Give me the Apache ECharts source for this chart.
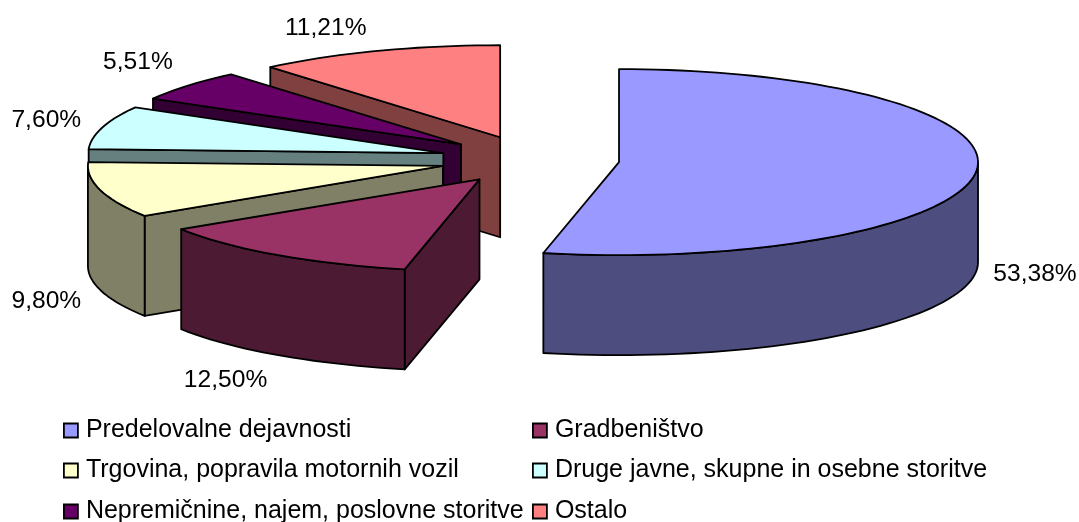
<!DOCTYPE html>
<html><head><meta charset="utf-8">
<style>html,body{margin:0;padding:0;background:#fff}#c{width:1079px;height:522px}</style>
<script src="https://cdn.jsdelivr.net/npm/echarts@6/dist/echarts.min.js"></script>
</head><body><div id="c"></div>
<script>
const categories = ['Predelovalne dejavnosti','Gradbeništvo','Trgovina, popravila motornih vozil','Druge javne, skupne in osebne storitve','Nepremičnine, najem, poslovne storitve','Ostalo'];
const shares = [53.38,12.50,9.80,7.60,5.51,11.21];
const topColors = ['#9999FF','#993366','#FFFFCC','#CCFFFF','#660066','#FF8080'];
const wallColors = ['#4D4D80','#4D1A33','#808066','#668080','#330033','#804040'];

// layout of the 3D pie
const pivot = {x:532, y:159.7}, RX = 355, RY = 92, DEPTH = 100;
const explode = [0.2465,0.26,0.26,0.26,0.26,0.26];
const rxOf = [359,355,355,355,355,355];
const ryOf = [93,92,92,92,92,92];
const labelOffset = [[59,102],[-52,125],[-54,111],[-56,-7],[-50,-23],[-52,-23]];
const legendPos = [[63,418],[532,418],[63,458],[532,458],[63,499],[532,499]];
const FONT_SIZE = 24.6, LEGEND_FONT_SIZE = 25;

const total = shares.reduce((a,b)=>a+b,0);
let run = 0;
const spans = shares.map(v=>{const s=run/total*360; run+=v; return [s,run/total*360];});
const rad = d=>d*Math.PI/180;
const fmt = v=>v.toFixed(2).replace('.',',')+'%';

function slice(i){
  return function(params, api){
    const v = api.value(0), a1 = api.value(1), a2 = api.value(2);
    const mid = (a1+a2)/2, rx = rxOf[i], ry = ryOf[i], e = explode[i];
    const cx = pivot.x + e*RX*Math.sin(rad(mid));
    const cy = pivot.y - e*RY*Math.cos(rad(mid));
    const pt = a=>[cx+rx*Math.sin(rad(a)), cy-ry*Math.cos(rad(a))];
    const arc = (p,q)=>{const o=[];const n=Math.max(2,Math.ceil((q-p)/2));for(let k=0;k<=n;k++)o.push(pt(p+(q-p)*k/n));return o;};
    const down = p=>[p[0],p[1]+DEPTH];
    const style = f=>({fill:f,stroke:'#000',lineWidth:1.8,lineJoin:'round'});
    const kids = [];
    const face = a=>{const o=pt(a);kids.push({type:'polygon',shape:{points:[[cx,cy],o,down(o),[cx,cy+DEPTH]]},style:style(wallColors[i])});};
    if(Math.sin(rad(a1))<-1e-6) face(a1);
    if(Math.sin(rad(a2))>1e-6) face(a2);
    const p = Math.max(a1,90), q = Math.min(a2,270);
    if(q>p){const t=arc(p,q);kids.push({type:'polygon',shape:{points:t.concat(t.map(down).reverse())},style:style(wallColors[i])});}
    kids.push({type:'polygon',shape:{points:[[cx,cy]].concat(arc(a1,a2))},style:style(topColors[i])});
    const m = pt(mid);
    kids.push({type:'text',style:{x:m[0]+labelOffset[i][0],y:m[1]+labelOffset[i][1],text:fmt(v),fill:'#000',
      font:FONT_SIZE+'px "Liberation Sans", Arial, sans-serif',align:'center',verticalAlign:'middle'}});
    return {type:'group',children:kids};
  };
}

const chart = echarts.init(document.getElementById('c'),null,{renderer:'canvas'});
chart.setOption({
  animation:false,
  backgroundColor:'#fff',
  legend: categories.map((n,i)=>({
    data:[{name:n,icon:'rect'}],left:legendPos[i][0],top:legendPos[i][1],orient:'horizontal',padding:0,
    itemWidth:14,itemHeight:14,itemGap:0,selectedMode:false,
    itemStyle:{color:topColors[i],borderColor:'#000',borderWidth:1.8},
    textStyle:{color:'#000',fontSize:LEGEND_FONT_SIZE,fontFamily:'"Liberation Sans", Arial, sans-serif',padding:[0,0,0,3]}
  })),
  series: categories.map((n,i)=>({
    type:'custom',name:n,coordinateSystem:'none',z:i===0?7:(7-i)+1,
    itemStyle:{color:topColors[i]},
    data:[[shares[i],spans[i][0],spans[i][1]]],
    renderItem:slice(i)
  }))
});
</script></body></html>
